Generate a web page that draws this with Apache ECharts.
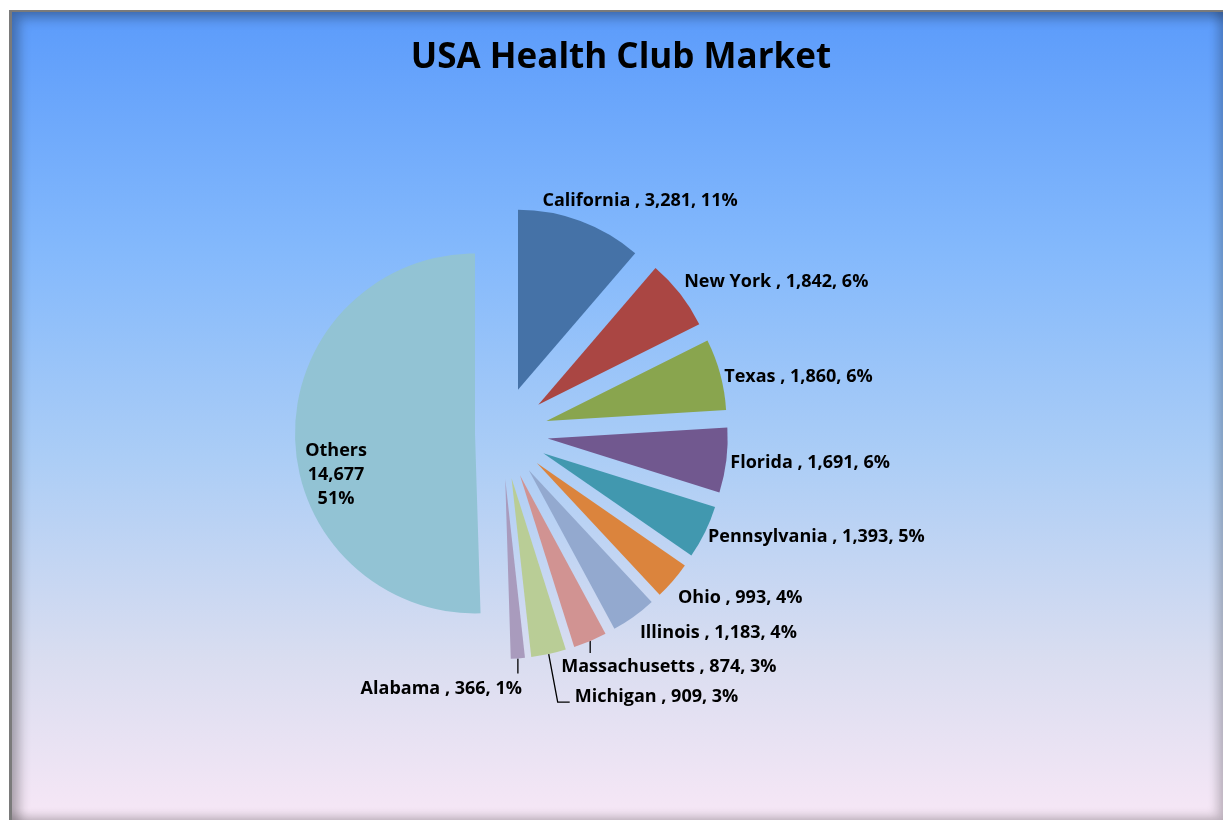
<!DOCTYPE html>
<html>
<head>
<meta charset="utf-8">
<title>USA Health Club Market</title>
<script src="https://cdn.jsdelivr.net/npm/echarts@6/dist/echarts.min.js"></script>
<style>
html, body { margin: 0; padding: 0; background: #fff; }
.frame { position: absolute; left: 9px; top: 10px; width: 1214px; height: 810px; }
#market { width: 100%; height: 100%; }
.frame .edge {
  position: absolute; left: 0; top: 0; right: 0; bottom: 0;
  border-top: 2px solid #7a7a7a; border-left: 3px solid #7a7a7a;
  box-shadow: inset 7px 6px 12px rgba(0, 0, 0, .3), inset -6px -4px 10px rgba(0, 0, 0, .2);
  pointer-events: none;
}
</style>
</head>
<body>
<div class="frame"><div id="market"></div><div class="edge"></div></div>
<script>
// 各州俱乐部数量
const states = ['California', 'New York', 'Texas', 'Florida', 'Pennsylvania', 'Ohio', 'Illinois', 'Massachusetts', 'Michigan', 'Alabama', 'Others']
const clubs = [3281, 1842, 1860, 1691, 1393, 993, 1183, 874, 909, 366, 14677]
const shares = [11, 6, 6, 6, 5, 4, 4, 3, 3, 1, 51]

const colors = ['#4572a7', '#aa4643', '#89a54e', '#71588f', '#4198af', '#db843d', '#93a9cf', '#d19392', '#b9cd96', '#a99bbd', '#92c3d4']

// label placement relative to the outer middle of each slice
const labelSpots = {
  California: { dx: -38, dy: -20 },
  'New York': { dx: 4, dy: -12 },
  Texas: { dx: 4, dy: 3 },
  Florida: { dx: 4, dy: 3 },
  Pennsylvania: { dx: 3, dy: 5 },
  Ohio: { dx: 5, dy: 17 },
  Illinois: { dx: 6, dy: 16 },
  Massachusetts: { dx: -29, dy: 26, line: [[0, 0], [0, 12]] },
  Michigan: { dx: 26, dy: 43, line: [[0, 0], [9, 48], [21, 48]] },
  Alabama: { dx: 4, dy: 30, align: 'right', line: [[0, 0], [0, 15]] },
  Others: { dx: 41, dy: 39, align: 'center' }
}

const chart = echarts.init(document.getElementById('market'))

const cx = 493
const cy = 423
const R = 180
const total = clubs.reduce((a, b) => a + b, 0)
let acc = 0
const mids = clubs.map(v => {
  const m = (acc + v / 2) / total * Math.PI * 2
  acc += v
  return m
})

const fmt = n => n.toLocaleString('en-US')

const series = states.map((name, i) => {
  const pull = name === 'Others' ? 27 : 46
  const sx = cx + pull * Math.sin(mids[i])
  const sy = cy - pull * Math.cos(mids[i])
  const px = sx + R * Math.sin(mids[i])
  const py = sy - R * Math.cos(mids[i])
  const spot = labelSpots[name]
  return {
    type: 'pie',
    name: name,
    radius: R,
    center: [sx, sy],
    startAngle: 90,
    clockwise: true,
    silent: true,
    avoidLabelOverlap: false,
    itemStyle: { borderWidth: 0 },
    label: {
      position: name === 'Others' ? 'inside' : 'outside',
      color: '#000',
      fontFamily: 'Open Sans',
      fontWeight: 'bold',
      fontSize: 18,
      lineHeight: 24,
      formatter: p => name === 'Others'
        ? p.name + '\n' + fmt(p.value) + '\n' + shares[p.dataIndex] + '%'
        : p.name + ' , ' + fmt(p.value) + ', ' + shares[p.dataIndex] + '%'
    },
    labelLine: { show: !!spot.line, length: 12, length2: 0, lineStyle: { color: '#000', width: 1.3 } },
    labelLayout: p => {
      if (p.dataIndex !== i) return {}
      const out = {
        x: px + spot.dx,
        y: py + spot.dy,
        align: spot.align || 'left',
        verticalAlign: 'middle'
      }
      if (spot.line) out.labelLinePoints = spot.line.map(q => [px + q[0], py + q[1]])
      return out
    },
    data: states.map((s, j) => ({
      name: s,
      value: clubs[j],
      itemStyle: { color: j === i ? colors[j] : 'rgba(0,0,0,0)' },
      label: { show: j === i },
      labelLine: { show: j === i && !!spot.line }
    }))
  }
})

const option = {
  animation: false,
  backgroundColor: new echarts.graphic.LinearGradient(0, 0, 0, 1, [
    { offset: 0, color: '#5b9bfb' },
    { offset: 0.3, color: '#84b9fc' },
    { offset: 0.55, color: '#abcdf6' },
    { offset: 0.8, color: '#d9ddf0' },
    { offset: 1, color: '#f7e7f6' }
  ]),
  title: {
    text: 'USA Health Club Market',
    left: 607,
    top: 26,
    textAlign: 'center',
    textStyle: { fontFamily: 'Open Sans', fontWeight: 'bold', fontSize: 35, color: '#000' }
  },
  series: series
}
chart.setOption(option)
</script>
</body>
</html>
